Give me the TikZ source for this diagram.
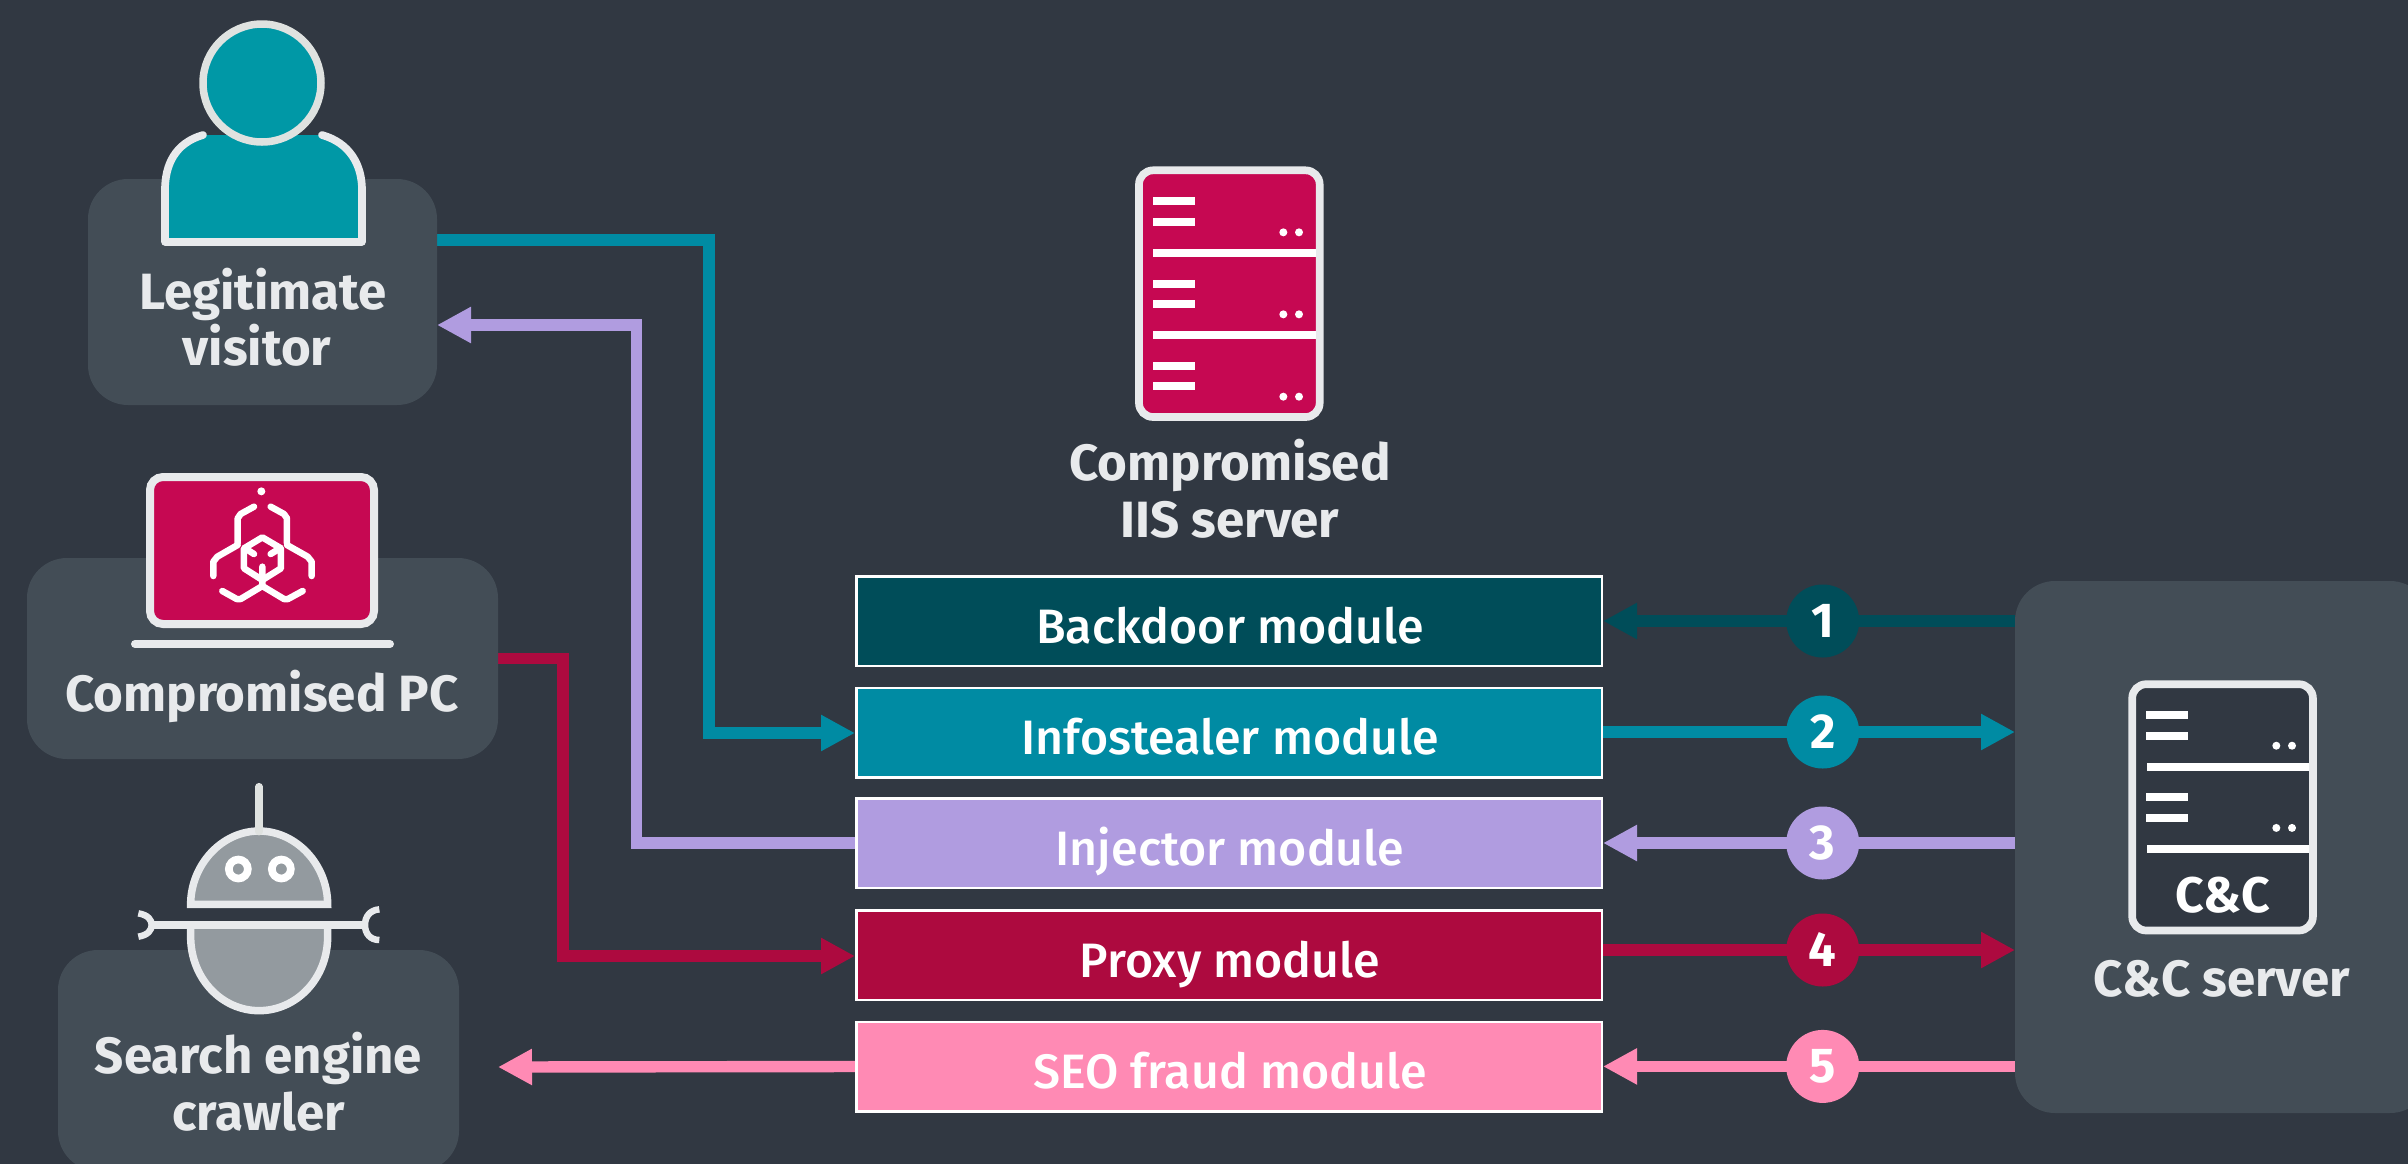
\documentclass[tikz,border=0pt]{standalone}
\usepackage{fontspec}
\setmainfont{Fira Sans}
\newfontfamily\modfont{Fira Sans Medium}
\usetikzlibrary{arrows.meta,backgrounds}
\definecolor{bgc}{HTML}{313842}
\definecolor{boxc}{HTML}{434D56}
\definecolor{lightc}{HTML}{E8EAEC}
\definecolor{ringc}{HTML}{DFE2E0}
\definecolor{tealicon}{HTML}{0098A6}
\definecolor{crimicon}{HTML}{C60852}
\definecolor{grayicon}{HTML}{939A9F}
\definecolor{cdark}{HTML}{004D59}
\definecolor{cteal}{HTML}{008BA3}
\definecolor{clilac}{HTML}{B09CE0}
\definecolor{ccrim}{HTML}{AD0A3F}
\definecolor{cpink}{HTML}{FF8AB4}
\tikzset{
  modbox/.style={draw=white,line width=2.5pt,minimum width=745.5pt,minimum height=89.5pt,inner sep=0pt},
  modtext/.style={anchor=base,inner sep=0pt,text=white,font=\fontsize{48.3}{55}\selectfont\modfont},
  lbl/.style={anchor=base,inner sep=0pt,align=center,text=lightc,font=\fontsize{51}{56.5}\selectfont\bfseries},
  badge/.style={circle,minimum size=73pt,inner sep=0pt,text=white,font=\fontsize{49}{49}\selectfont\bfseries},
  conn/.style={line width=11.4pt,line join=miter},
  arr/.style={conn,-{Triangle[length=34pt,width=34pt]}},
  outline/.style={draw=lightc,line width=7.7pt}
}
\begin{document}
\begin{tikzpicture}[x=1pt,y=-1pt]
\useasboundingbox (0,0) rectangle (2408,1163);
\begin{scope}
\clip (-3,-3) rectangle (2411,1166);
% boxes
\fill[boxc,rounded corners=40pt] (88,179) rectangle (437,405);
\fill[boxc,rounded corners=40pt] (27,558) rectangle (498,759);
\fill[boxc,rounded corners=40pt] (58,950) rectangle (459,1171);
\fill[boxc,rounded corners=40pt] (2015,581) rectangle (2430,1113);
\coordinate (pcE) at (498,658.5);
\coordinate (crawE) at (498,1067);
\coordinate (ccW) at (2015,846);
% person
\fill[tealicon] (203,135) -- (322,135) .. controls (350,143) and (362,165) .. (362,190) -- (362,242) -- (165,242) -- (165,190) .. controls (165,165) and (175,143) .. (203,135) -- cycle;
\draw[outline,line cap=round,line join=round] (203,135) .. controls (175,143) and (165,165) .. (165,190) -- (165,242) -- (362,242) -- (362,190) .. controls (362,165) and (350,143) .. (322,135);
\draw[fill=tealicon,draw=ringc,line width=7.5pt] (262,83) circle [radius=59];
% laptop
\draw[outline,fill=crimicon,line width=8pt,rounded corners=13pt] (150,477) rectangle (374,624);
\draw[lightc,line width=8pt,line cap=round] (135,644) -- (390,644);
\begin{scope}[shift={(0,450)},x=0.33333pt,y=-0.33333pt,white,line width=6.5pt,line cap=round,line join=round]
\fill (784,124) circle [radius=12];
\draw (762,170) -- (722,192) -- (713,205) -- (713,280);
\draw (812,170) -- (852,192) -- (861,205) -- (861,280);
\draw (787,262) -- (732,295) -- (732,355) -- (787,390) -- (843,355) -- (843,295) -- cycle;
\draw (713,285) -- (652,320) -- (640,335) -- (640,378);
\draw (861,285) -- (923,320) -- (935,335) -- (935,378);
\draw (787,350) -- (787,408) -- (722,447) -- (710,447) -- (667,423);
\draw (787,408) -- (852,447) -- (864,447) -- (908,423);
\draw (740,298) -- (762,312);
\draw (835,298) -- (812,312);
\end{scope}
% crawler
\begin{scope}[shift={(100,770)},x=0.33333pt,y=-0.33333pt]
\draw[fill=grayicon,draw=lightc,line width=7.5pt] (272,403) .. controls (272,285) and (365,183) .. (477,183) .. controls (590,183) and (683,285) .. (683,403) -- cycle;
\draw[fill=grayicon,draw=lightc,line width=7.5pt] (272,465) -- (272,500) .. controls (272,625) and (365,722) .. (477,722) .. controls (590,722) and (683,625) .. (683,500) -- (683,465);
\draw[lightc,line width=8pt] (160,465) -- (790,465);
\draw[lightc,line width=6.5pt] (115,430) .. controls (145,435) and (155,450) .. (155,465) .. controls (155,480) and (145,495) .. (115,500);
\draw[lightc,line width=6.5pt] (838,418) .. controls (810,420) and (795,440) .. (795,465) .. controls (795,490) and (810,510) .. (838,510);
\draw[ringc,line width=7.5pt,line cap=round] (477,50) -- (477,185);
\draw[white,line width=7.7pt] (415,297) circle [radius=28.5];
\draw[white,line width=7.7pt] (544,297) circle [radius=28.5];
\end{scope}
% IIS server
\begin{scope}[shift={(1090,150)},x=0.33333pt,y=-0.33333pt]
\draw[outline,fill=crimicon,rounded corners=14pt] (147,61) rectangle (689,801);
\foreach \yy in {141,204,390,450,636,696} \fill[white] (189,\yy) rectangle (315,\yy+24);
\foreach \yy in {297,543} \fill[white] (189,\yy) rectangle (678,\yy+23);
\foreach \yy in {247,493,740} {\fill[white] (580,\yy) circle [radius=12]; \fill[white] (627,\yy) circle [radius=12];}
\end{scope}
% C&C server
\draw[outline,fill=bgc,rounded corners=14pt] (2132.2,684.2) rectangle (2312.9,930.5);
\foreach \yy in {711,732,793,814} \fill[white] (2146,\yy) rectangle (2188,\yy+8);
\foreach \yy in {762.5,845} \fill[white] (2146.5,\yy) rectangle (2309.3,\yy+8);
\foreach \yy in {745.7,827.9} {\fill[white] (2276.3,\yy) circle [radius=4]; \fill[white] (2292,\yy) circle [radius=4];}
\node[anchor=base,inner sep=0pt,text=white,font=\fontsize{50}{50}\selectfont\bfseries] (cctxt) at (2222.5,912) {C\&C};
% labels
\node[lbl] (lv) at (263,365.5) {Legitimate\\visitor\hspace*{12pt}};
\node[lbl] (lp) at (262,711) {Compromised PC};
\node[lbl] (lc) at (258.5,1130) {Search engine\\crawler};
\node[lbl] (ls) at (1230,537) {Compromised\\IIS server};
\node[lbl] (lcc) at (2222,996) {C\&C server};
% modules
\node[modbox,fill=cdark] (m1) at (1229,621) {};
\node[modbox,fill=cteal] (m2) at (1229,732.5) {};
\node[modbox,fill=clilac] (m3) at (1229,843) {};
\node[modbox,fill=ccrim] (m4) at (1229,955) {};
\node[modbox,fill=cpink] (m5) at (1229,1066.5) {};
\node[modtext] (t1) at (1230,643) {Backdoor module};
\node[modtext] (t2) at (1230,754.5) {Infostealer module};
\node[modtext] (t3) at (1230,865.5) {Injector module};
\node[modtext] (t4) at (1230,977.5) {Proxy module};
\node[modtext] (t5) at (1230,1088.5) {SEO fraud module};
% badges
\node[badge,fill=cdark] (b1) at (1822.7,621) {\raisebox{-2pt}{1}};
\node[badge,fill=cteal] (b2) at (1822.7,732) {\raisebox{-2pt}{2}};
\node[badge,fill=clilac] (b3) at (1822.7,843) {\raisebox{-2pt}{3}};
\node[badge,fill=ccrim] (b4) at (1822.7,950) {\raisebox{-2pt}{4}};
\node[badge,fill=cpink] (b5) at (1822.7,1066.4) {\raisebox{-2pt}{5}};
\end{scope}
\begin{scope}[on background layer]
\fill[bgc] (-3,-3) rectangle (2411,1166);
\draw[arr,cdark] (ccW |- b1) -- (m1.east |- b1);
\draw[arr,cteal] (m2.east |- b2) -- (ccW |- b2);
\draw[arr,clilac] (ccW |- b3) -- (m3.east |- b3);
\draw[arr,ccrim] (m4.east |- b4) -- (ccW |- b4);
\draw[arr,cpink] (ccW |- b5) -- (m5.east |- b5);
\coordinate (vt) at (437,240);
\coordinate (vl) at (437,325);
\draw[arr,cteal] (vt) -| (709,733) -- (m2.west |- 0,733);
\draw[arr,clilac] (m3.west) -| (636.4,325) -- (vl);
\draw[arr,ccrim] (pcE) -| (563,956) -- (m4.west |- 0,956);
\draw[arr,cpink] (m5.west) -- (crawE);
\end{scope}
\end{tikzpicture}
\end{document}
